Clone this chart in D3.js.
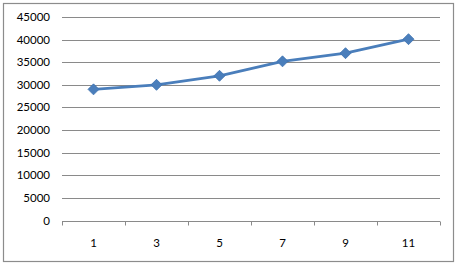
<!DOCTYPE html>
<html><head><meta charset="utf-8">
<script src="https://cdn.jsdelivr.net/npm/d3@7"></script>
<style>body{margin:0;background:#fff}svg{display:block}</style>
</head><body>
<script>
const categories = ["1","3","5","7","9","11"];
const values = [29000, 30000, 32000, 35200, 37000, 40100];
const yTicks = [0,5000,10000,15000,20000,25000,30000,35000,40000,45000];

const W=458,H=265;
const svg=d3.select("body").append("svg").attr("width",W).attr("height",H);
svg.append("rect").attr("x",3.5).attr("y",3.5).attr("width",450).attr("height",258)
  .attr("fill","#fff").attr("stroke","#8c8c8c").attr("stroke-width",1.2);

const m={l:62,r:440,t:17,b:220.5};
const x=d3.scaleBand().domain(categories).range([m.l,m.r]);
const y=d3.scaleLinear().domain([0,45000]).range([m.b,m.t]);
const font="Lato, 'Open Sans', sans-serif";

// gridlines
svg.append("g").selectAll("line").data(yTicks.filter(d=>d>0)).join("line")
  .attr("x1",m.l).attr("x2",m.r).attr("y1",d=>Math.round(y(d))+0.5).attr("y2",d=>Math.round(y(d))+0.5)
  .attr("stroke","#8a8a8a").attr("stroke-width",1);

// y labels
svg.append("g").selectAll("text").data(yTicks).join("text")
  .attr("x",50).attr("y",d=>y(d)).attr("dy","0.35em").attr("text-anchor","end")
  .attr("font-family",font).attr("font-size",11.5).attr("fill","#000").text(d=>d);

// x axis
const xa=svg.append("g").attr("transform",`translate(0,${Math.round(m.b)+0.5})`);
xa.append("line").attr("x1",m.l).attr("x2",m.r).attr("stroke","#8a8a8a");
const edges=categories.map(c=>x(c)).concat([x(categories[categories.length-1])+x.bandwidth()]);
xa.selectAll("line.t").data(edges).join("line").attr("class","t")
  .attr("x1",d=>Math.round(d)+0.5).attr("x2",d=>Math.round(d)+0.5).attr("y1",0).attr("y2",4)
  .attr("stroke","#8a8a8a");
xa.selectAll("text").data(categories).join("text")
  .attr("x",d=>x(d)+x.bandwidth()/2).attr("y",21).attr("dy","0.35em").attr("text-anchor","middle")
  .attr("font-family",font).attr("font-size",11.5).attr("fill","#000").text(d=>d);

// line
const pts=categories.map((c,i)=>[x(c)+x.bandwidth()/2,y(values[i])]);
svg.append("path").attr("d",d3.line()(pts)).attr("fill","none")
  .attr("stroke","#4a7ebb").attr("stroke-width",2.75).attr("stroke-linejoin","round");
svg.append("g").selectAll("path").data(pts).join("path")
  .attr("transform",d=>`translate(${d[0]},${d[1]})`)
  .attr("d","M0,-5.5L5.5,0L0,5.5L-5.5,0Z").attr("fill","#4a7ebb").attr("stroke","#3f72b0").attr("stroke-width",0.8);
</script>
</body></html>
